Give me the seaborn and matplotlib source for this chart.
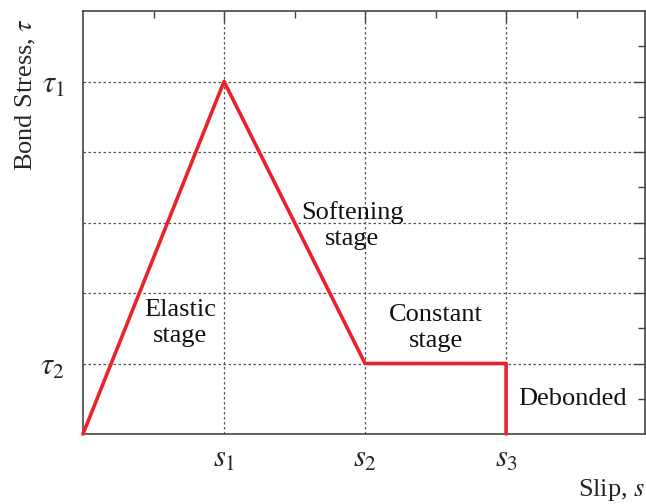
import matplotlib
matplotlib.use("Agg")
import matplotlib.pyplot as plt
import seaborn as sns
import pandas as pd
from matplotlib.ticker import FixedLocator

# Data
slip = [0, 2, 4, 6, 6]
stress = [0, 5, 1, 1, 0]
x_major = [2, 4, 6]
x_labels = [r"$s_1$", r"$s_2$", r"$s_3$"]
x_minor = [1, 3, 5, 7]
y_major = [1, 2, 3, 4, 5]
y_labels = [r"$\tau_2$", "", "", "", r"$\tau_1$"]
y_minor = [0.5, 1.5, 2.5, 3.5, 4.5, 5.5]
stage_text = ["Elastic\nstage", "Softening\nstage", "Constant\nstage", "Debonded"]
stage_x = [1.38, 3.82, 5.0, 6.94]
stage_y = [1.57, 2.96, 1.5, 0.5]

sns.set_theme(style="white")
plt.rcParams["font.family"] = ["Liberation Serif", "DejaVu Serif"]
plt.rcParams["mathtext.fontset"] = "stix"

fig = plt.figure(figsize=(6.46, 5.04), dpi=100)
ax = fig.add_axes([83 / 646, 70 / 504, 562 / 646, 423 / 504])

df = pd.DataFrame({"slip": slip, "stress": stress})
sns.lineplot(data=df, x="slip", y="stress", sort=False, estimator=None,
             color="#e8232b", linewidth=2.6, ax=ax, zorder=5, clip_on=False)

ax.set_xlim(0, 7.97)
ax.set_ylim(0, 6)
ax.xaxis.set_major_locator(FixedLocator(x_major))
ax.xaxis.set_minor_locator(FixedLocator(x_minor))
ax.yaxis.set_major_locator(FixedLocator(y_major))
ax.yaxis.set_minor_locator(FixedLocator(y_minor))
ax.set_xticklabels(x_labels, fontsize=22)
ax.set_yticklabels(y_labels, fontsize=22)

ax.tick_params(which="both", direction="in", top=True, right=True,
               color="#444444", width=1.0)
ax.tick_params(which="major", length=8)
ax.tick_params(axis="x", which="major", pad=8)
ax.tick_params(axis="y", which="major", pad=13)
ax.tick_params(which="minor", length=5)
for sp in ax.spines.values():
    sp.set_color("#444444")
    sp.set_linewidth(1.2)

ax.grid(True, which="major", linestyle=(0, (2, 2)), color="#555555", linewidth=0.9)

for t, x, y in zip(stage_text, stage_x, stage_y):
    ax.text(x, y, t, ha="center", va="center", fontsize=19, color="#111111",
            linespacing=1.25)

ax.set_xlabel("Slip, $s$", loc="right", fontsize=19, labelpad=2)
ax.set_ylabel(r"Bond Stress, $\tau$", loc="top", fontsize=19)
ax.yaxis.set_label_coords(-0.080, 0.983)

fig.savefig("out.png", dpi=100)
